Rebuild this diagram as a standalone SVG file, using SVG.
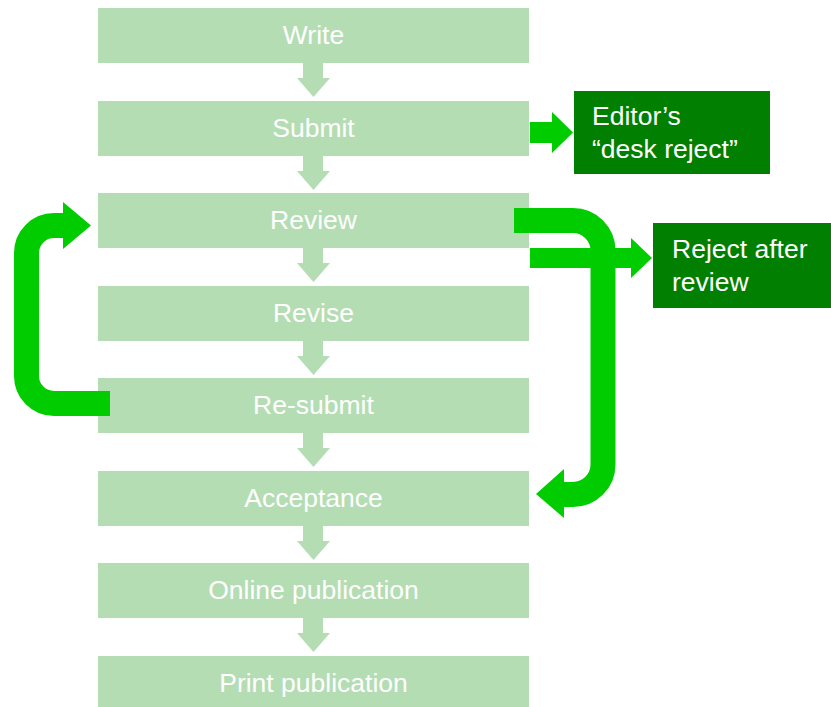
<svg xmlns="http://www.w3.org/2000/svg" width="831" height="707" viewBox="0 0 831 707">
<style>
.box{fill:#b4ddb3}
.dbox{fill:#007f00}
.t{font-family:"Liberation Sans",Arial,sans-serif;font-size:26.5px;fill:#ffffff}
.c{text-anchor:middle}
.down{fill:#b4ddb3}
.g{fill:#00cc00}
.gs{fill:none;stroke:#00cc00;stroke-width:25}
</style>
<defs>
<polygon id="dn" class="down" points="303,0 323,0 323,15 330,15 313.5,34 297,15 303,15"/>
</defs>
<g id="write"><rect class="box" x="98" y="8" width="431" height="55"/><text class="t c" x="313.5" y="44">Write</text></g>
<g id="submit"><rect class="box" x="98" y="101" width="431" height="55"/><text class="t c" x="313.5" y="137">Submit</text></g>
<g id="review"><rect class="box" x="98" y="193" width="431" height="55"/><text class="t c" x="313.5" y="229">Review</text></g>
<g id="revise"><rect class="box" x="98" y="286" width="431" height="55"/><text class="t c" x="313.5" y="322">Revise</text></g>
<g id="resubmit"><rect class="box" x="98" y="378" width="431" height="55"/><text class="t c" x="313.5" y="414">Re-submit</text></g>
<g id="acceptance"><rect class="box" x="98" y="471" width="431" height="55"/><text class="t c" x="313.5" y="507">Acceptance</text></g>
<g id="online"><rect class="box" x="98" y="563" width="431" height="55"/><text class="t c" x="313.5" y="599">Online publication</text></g>
<g id="print"><rect class="box" x="98" y="656" width="431" height="55"/><text class="t c" x="313.5" y="692">Print publication</text></g>
<g id="deskreject"><rect class="dbox" x="574" y="91" width="196" height="83"/><text class="t" x="592" y="125">Editor’s</text><text class="t" x="592" y="158">“desk reject”</text></g>
<g id="rejectafter"><rect class="dbox" x="653" y="223" width="178" height="85"/><text class="t" x="672" y="258">Reject after</text><text class="t" x="672" y="291">review</text></g>
<g id="connectors">
<use href="#dn" y="63"/>
<use href="#dn" y="156"/>
<use href="#dn" y="248"/>
<use href="#dn" y="341"/>
<use href="#dn" y="433"/>
<use href="#dn" y="526"/>
<use href="#dn" y="618"/>
<polygon class="g" points="530,122 552,122 552,112 573,132.5 552,153 552,143 530,143"/>
<polygon class="g" points="530,248 631,248 631,238 652,258 631,278 631,268 530,268"/>
<path class="gs" d="M514 220.5 H573 A30 30 0 0 1 603 250.5 V464.5 A30 30 0 0 1 573 494.5 H562"/>
<polygon class="g" points="564,469 536,494 564,518"/>
<path class="gs" d="M110 403.5 H54 A27.5 27.5 0 0 1 26.5 376 V253 A27.5 27.5 0 0 1 54 225.5 H65"/>
<polygon class="g" points="63,202 91,225.5 63,249"/>
</g>
</svg>
